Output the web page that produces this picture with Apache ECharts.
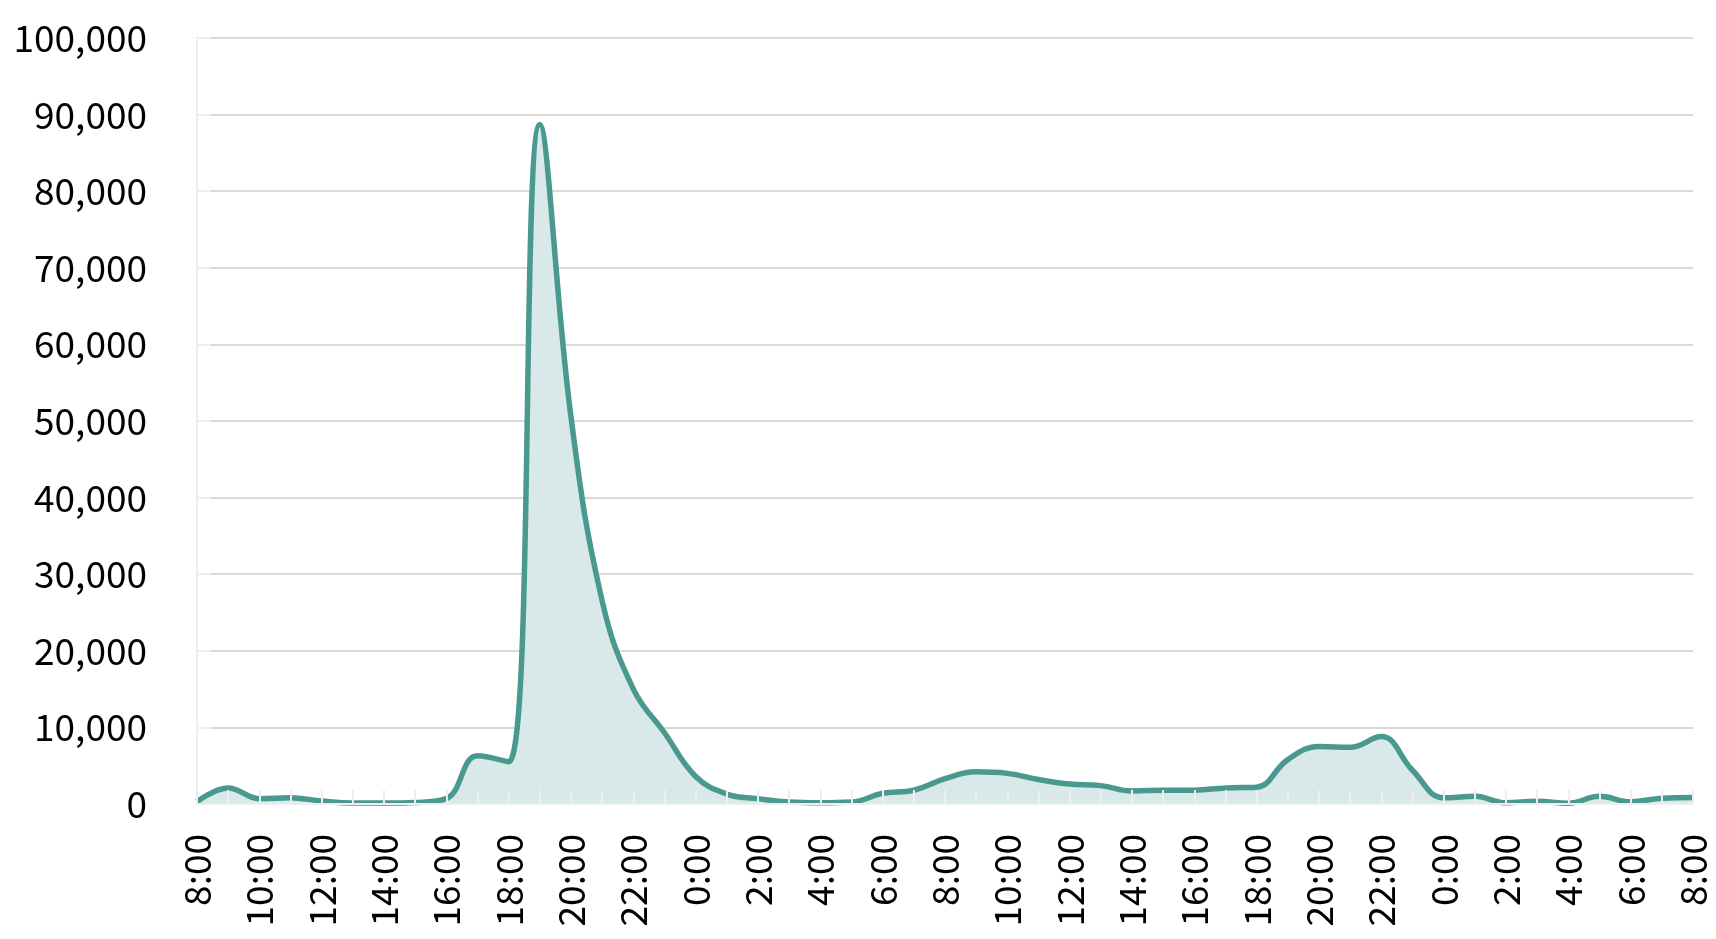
<!DOCTYPE html>
<html>
<head>
<meta charset="utf-8">
<script src="https://cdn.jsdelivr.net/npm/echarts@6/dist/echarts.min.js"></script>
<style>
html,body{margin:0;padding:0;background:#fff;}
#c{width:1716px;height:939px;}
</style>
</head>
<body>
<div id="c"></div>
<script>
// Hourly categories: 8:00 day 1 through 8:00 day 3
const categories = [
  "8:00","9:00","10:00","11:00","12:00","13:00","14:00","15:00","16:00","17:00",
  "18:00","19:00","20:00","21:00","22:00","23:00","0:00","1:00","2:00","3:00",
  "4:00","5:00","6:00","7:00","8:00","9:00","10:00","11:00","12:00","13:00",
  "14:00","15:00","16:00","17:00","18:00","19:00","20:00","21:00","22:00","23:00",
  "0:00","1:00","2:00","3:00","4:00","5:00","6:00","7:00","8:00"
];
const values = [
  300, 2100, 700, 830, 380, 120, 120, 200, 700, 6300,
  5500, 88700, 50500, 26500, 15000, 9300, 3600, 1300, 700, 250,
  150, 250, 1400, 1800, 3300, 4200, 4000, 3200, 2600, 2400,
  1700, 1800, 1800, 2100, 2200, 5800, 7500, 7400, 8800, 4400,
  800, 1000, 150, 350, 100, 1000, 300, 750, 850
];
const yTicks = { min: 0, max: 100000, interval: 10000 };

const chart = echarts.init(document.getElementById('c'), null, {renderer: 'canvas'});
const font = '"Noto Sans CJK JP", "Noto Sans", sans-serif';
chart.setOption({
  animation: false,
  backgroundColor: '#ffffff',
  grid: { left: 197, right: 23, top: 38, bottom: 135 },
  xAxis: {
    type: 'category',
    data: categories,
    boundaryGap: false,
    z: 3,
    axisLine: { show: true, lineStyle: { color: '#eeeeee', width: 2 } },
    axisTick: { show: true, inside: true, length: 14, interval: 0, lineStyle: { color: '#eeeeee', width: 2 } },
    axisLabel: {
      interval: 1, rotate: 90, margin: 30,
      color: '#000', fontSize: 37, fontFamily: font
    },
    splitLine: { show: false }
  },
  yAxis: {
    type: 'value',
    min: yTicks.min, max: yTicks.max, interval: yTicks.interval,
    axisLine: { show: true, lineStyle: { color: '#eeeeee', width: 2 } },
    axisTick: { show: true, inside: true, length: 14, lineStyle: { color: '#eeeeee', width: 2 } },
    axisLabel: {
      margin: 50, color: '#000', fontSize: 37, fontFamily: font,
      formatter: v => v.toLocaleString('en-US')
    },
    splitLine: { show: true, lineStyle: { color: '#d9d9d9', width: 2 } }
  },
  series: [{
    type: 'line',
    data: values,
    smooth: 0.42,
    showSymbol: false,
    lineStyle: { color: '#4a998f', width: 5.5 },
    areaStyle: { color: '#d9e8e8', opacity: 1 },
    z: 2
  }]
});
</script>
</body>
</html>
